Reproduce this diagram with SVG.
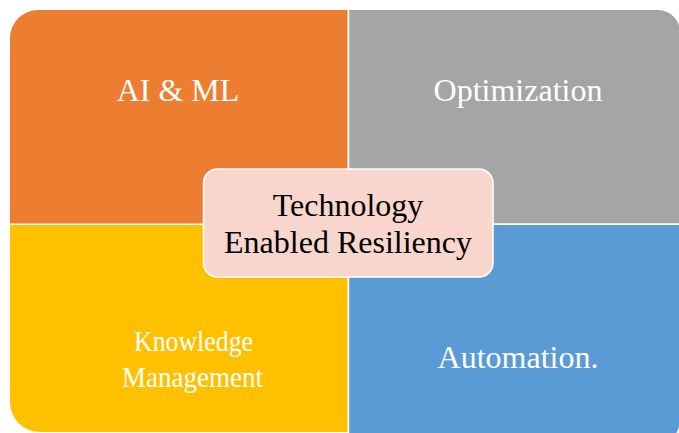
<svg xmlns="http://www.w3.org/2000/svg" width="679" height="433" viewBox="0 0 679 433">
  <style>
    .lbl { font-family: "Liberation Serif", "Times New Roman", serif; font-size: 32px; fill: #ffffff; text-anchor: middle; }
    .lbl.sm { font-size: 30px; }
    .core { font-family: "Liberation Serif", "Times New Roman", serif; font-size: 32px; fill: #000000; text-anchor: middle; }
  </style>
  <rect width="679" height="433" fill="#ffffff"/>

  <g id="ai-ml">
    <path d="M10,38 A28,28 0 0 1 38,10 H347.5 V223.5 H10 Z" fill="#ED7D31"/>
    <text class="lbl" x="178" y="101">AI &amp; ML</text>
  </g>

  <g id="optimization">
    <path d="M349.3,10 H658 A22,22 0 0 1 680,32 V223.3 H349.3 Z" fill="#A5A5A5"/>
    <text class="lbl" x="518" y="101">Optimization</text>
  </g>

  <g id="knowledge-management">
    <path d="M10,225 H347.5 V432 H40 A30,30 0 0 1 10,402 Z" fill="#FFC000"/>
    <text class="lbl sm" x="193.5" y="351" textLength="119" lengthAdjust="spacingAndGlyphs">Knowledge</text>
    <text class="lbl sm" x="192.5" y="387" textLength="141" lengthAdjust="spacingAndGlyphs">Management</text>
  </g>

  <g id="automation">
    <path d="M349.3,225 H680 V420 A25,25 0 0 1 655,445 H349.3 Z" fill="#5B9BD5"/>
    <text class="lbl" x="518" y="368">Automation.</text>
  </g>

  <g id="technology-enabled-resiliency">
    <rect x="203.5" y="169" width="289.5" height="108" rx="14" ry="14" fill="#F8D6CD" stroke="#ffffff" stroke-width="1.5"/>
    <text class="core" x="348" y="216">Technology</text>
    <text class="core" x="348" y="253">Enabled Resiliency</text>
  </g>

  <g id="connectors"/>
</svg>
